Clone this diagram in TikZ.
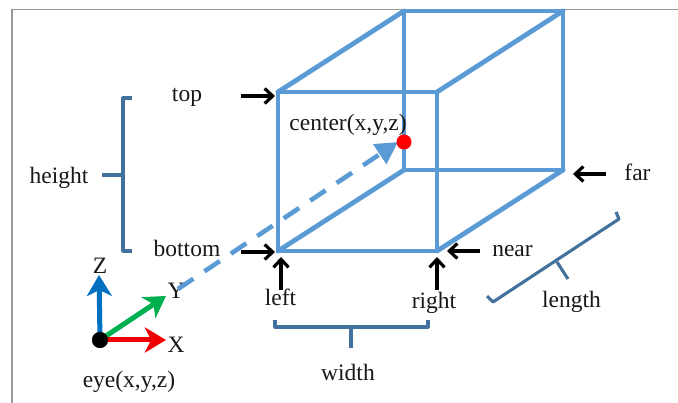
\documentclass[tikz,border=0pt]{standalone}
\usepackage{fontspec}
\setmainfont{Liberation Serif}
\usetikzlibrary{arrows.meta}
\definecolor{cubeblue}{HTML}{5B9BD5}
\definecolor{bracketblue}{HTML}{41719C}
\definecolor{axisblue}{HTML}{0070C0}
\definecolor{axisgreen}{HTML}{00B050}
\definecolor{axisred}{HTML}{F00000}
\tikzset{
  x=1pt,y=-1pt,
  lbl/.style={inner sep=0pt,anchor=base,font=\fontsize{23.5}{24}\selectfont,text=black!90},
  cube/.style={draw=cubeblue,line width=4.8pt,line cap=round,line join=miter},
  brk/.style={draw=bracketblue,line width=3.1pt,line join=round},
  pointer/.style={draw=black,line width=3.8pt,-{Straight Barb[length=8pt,width=15pt,line width=3.2pt]}},
  axis/.style={line width=5pt,-{Stealth[length=21pt,width=25pt,inset=6pt]}}
}
\begin{document}
\begin{tikzpicture}
\useasboundingbox (0,0) rectangle (678,403);
\fill[white] (0,0) rectangle (678,403);
\coordinate (fa) at (12,403);
\coordinate (fb) at (12,9.5);
\coordinate (fc) at (678,9.5);
\draw[gray!80,line width=1.6pt] (fa) -- (fb) -- (fc);
% cube
\coordinate (A) at (278,92);\coordinate (B) at (437,92);
\coordinate (C) at (437,251);\coordinate (D) at (278,251);
\coordinate (E) at (404,11);\coordinate (F) at (563,11);
\coordinate (G) at (563,170);\coordinate (H) at (404,170);
\draw[cube] (E) -- (F) -- (G) -- (H) -- cycle;
\draw[cube] (A) -- (B) -- (C) -- (D) -- cycle;
\draw[cube] (A) -- (E) (B) -- (F) (C) -- (G) (D) -- (H);
% labels
\node[lbl] (top) at (187,102) {top};
\node[lbl] (bottom) at (187,257) {bottom};
\node[lbl] (left) at (280.5,306) {left};
\node[lbl] (right) at (434,309) {right};
\node[lbl] (near) at (512.5,257) {near};
\node[lbl] (far) at (637.5,181) {far};
\node[lbl] (length) at (571.5,308) {length};
\node[lbl] (width) at (348,381) {width};
\node[lbl] (height) at (59,184) {height};
\node[lbl] (Z) at (100,274) {Z};
\node[lbl] (Y) at (176,299) {Y};
\node[lbl] (X) at (176,353) {X};
\node[lbl] (eye) at (129,388) {eye(x,y,z)};
\node[lbl] (center) at (348,131) {center(x,y,z)};
% view line
\coordinate (vs) at (178,289);
\coordinate (vt) at (398,142);
\draw[draw=cubeblue,line width=4.6pt,dash pattern=on 18.5pt off 13.3pt,-{Triangle[length=22pt,width=23pt,fill=cubeblue]}] (vs) -- (vt);
\node[circle,fill=red,inner sep=0pt,minimum size=15pt] (cdot) at (404,142) {};
% pointers
\coordinate (t1) at (241,96);\coordinate (t2) at (275,96);
\coordinate (b1) at (241,252);\coordinate (b2) at (275,252);
\coordinate (l1) at (281,290);\coordinate (l2) at (281,257);
\coordinate (r1) at (437,290);\coordinate (r2) at (437,257);
\coordinate (n1) at (480,251);\coordinate (n2) at (447,251);
\coordinate (f1) at (606,174);\coordinate (f2) at (573,174);
\foreach \p/\q in {t1/t2,b1/b2,l1/l2,r1/r2,n1/n2,f1/f2} \draw[pointer] (\p) -- (\q);
% brackets
\coordinate (h1) at (132,98);\coordinate (h2) at (123,98);\coordinate (h3) at (123,251);\coordinate (h4) at (132,251);
\coordinate (h5) at (102,175);\coordinate (h6) at (123,175);
\draw[brk] (h1) -- (h2) -- (h3) -- (h4);
\draw[brk] (h5) -- (h6);
\coordinate (w1) at (275,320);\coordinate (w2) at (275,327);\coordinate (w3) at (428,327);\coordinate (w4) at (428,320);
\coordinate (w5) at (351,327);\coordinate (w6) at (351,348);
\draw[brk] (w1) -- (w2) -- (w3) -- (w4);
\draw[brk] (w5) -- (w6);
\coordinate (d1) at (487,296);\coordinate (d2) at (493,302);\coordinate (d3) at (619,219);\coordinate (d4) at (616,212);
\coordinate (d5) at (557,262);\coordinate (d6) at (568,279);
\draw[brk] (d1) -- (d2) -- (d3) -- (d4);
\draw[brk] (d5) -- (d6);
% axes
\coordinate (ox) at (166,340);\coordinate (oy) at (166,296);\coordinate (oz) at (99,275);
\node[circle,fill=black,inner sep=0pt,minimum size=16pt] (origin) at (100,340) {};
\draw[axis,draw=axisgreen,fill=axisgreen] (origin.center) -- (oy);
\draw[axis,draw=axisblue,fill=axisblue] (origin.center) -- (oz);
\draw[axis,draw=axisred,fill=axisred] (origin.center) -- (ox);
\node[circle,fill=black,inner sep=0pt,minimum size=16pt] at (origin.center) {};
\end{tikzpicture}
\end{document}
